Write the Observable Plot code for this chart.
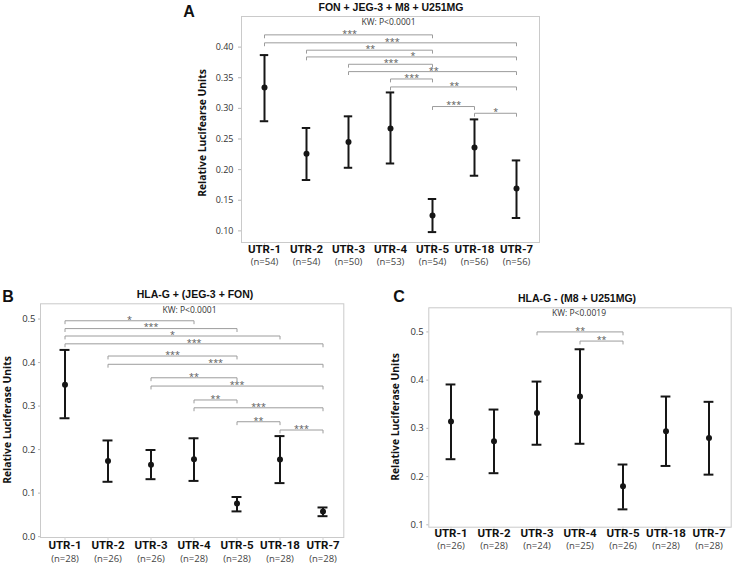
<!DOCTYPE html>
<html><head><meta charset="utf-8">
<script src="https://cdn.jsdelivr.net/npm/d3@7"></script>
<script src="https://cdn.jsdelivr.net/npm/@observablehq/plot@0.6"></script>
<style>
body{margin:0;background:#fff;}
#root{position:relative;width:733px;height:568px;overflow:hidden;background:#fff;}
.ov{position:absolute;transform:translate(-50%,-50%);white-space:nowrap;line-height:1;color:#111;}
.rot{transform:translate(-50%,-50%) rotate(-90deg);}
</style></head><body><div id="root"></div>
<script>
// ---------- data ----------
const categories = ["UTR-1","UTR-2","UTR-3","UTR-4","UTR-5","UTR-18","UTR-7"];

// Panel A: FON + JEG-3 + M8 + U251MG
const nA    = ["(n=54)","(n=54)","(n=50)","(n=53)","(n=54)","(n=56)","(n=56)"];
const meanA = [0.334, 0.226, 0.245, 0.267, 0.125, 0.236, 0.169];
const lowA  = [0.279, 0.183, 0.203, 0.210, 0.098, 0.190, 0.121];
const highA = [0.387, 0.268, 0.287, 0.326, 0.152, 0.282, 0.215];
const ticksA = [0.10, 0.15, 0.20, 0.25, 0.30, 0.35, 0.40];
const sigFromA  = ["UTR-1","UTR-1","UTR-2","UTR-2","UTR-3","UTR-3","UTR-4","UTR-4","UTR-5","UTR-18"];
const sigToA    = ["UTR-5","UTR-7","UTR-5","UTR-7","UTR-5","UTR-7","UTR-5","UTR-7","UTR-18","UTR-7"];
const sigStarA  = ["***","***","**","*","***","**","***","**","***","*"];
const sigLevelA = [0.420, 0.407, 0.395, 0.384, 0.372, 0.360, 0.348, 0.335, 0.303, 0.292];

// Panel B: HLA-G + (JEG-3 + FON)
const nB    = ["(n=28)","(n=26)","(n=26)","(n=28)","(n=28)","(n=28)","(n=28)"];
const meanB = [0.349, 0.174, 0.165, 0.178, 0.076, 0.177, 0.058];
const lowB  = [0.272, 0.126, 0.132, 0.128, 0.058, 0.123, 0.047];
const highB = [0.429, 0.221, 0.199, 0.226, 0.091, 0.231, 0.067];
const ticksB = [0.0, 0.1, 0.2, 0.3, 0.4, 0.5];
const sigFromB  = ["UTR-1","UTR-1","UTR-1","UTR-1","UTR-2","UTR-2","UTR-3","UTR-3","UTR-4","UTR-4","UTR-5","UTR-18"];
const sigToB    = ["UTR-4","UTR-5","UTR-18","UTR-7","UTR-5","UTR-7","UTR-5","UTR-7","UTR-5","UTR-7","UTR-18","UTR-7"];
const sigStarB  = ["*","***","*","***","***","***","**","***","**","***","**","***"];
const sigLevelB = [0.496, 0.478, 0.461, 0.443, 0.415, 0.396, 0.365, 0.346, 0.314, 0.296, 0.264, 0.245];

// Panel C: HLA-G - (M8 + U251MG)
const nC    = ["(n=26)","(n=28)","(n=24)","(n=25)","(n=26)","(n=28)","(n=28)"];
const meanC = [0.314, 0.273, 0.332, 0.366, 0.180, 0.294, 0.280];
const lowC  = [0.236, 0.207, 0.266, 0.268, 0.132, 0.222, 0.204];
const highC = [0.391, 0.339, 0.397, 0.464, 0.225, 0.366, 0.355];
const ticksC = [0.1, 0.2, 0.3, 0.4, 0.5];
const sigFromC  = ["UTR-3","UTR-4"];
const sigToC    = ["UTR-5","UTR-5"];
const sigStarC  = ["**","**"];
const sigLevelC = [0.500, 0.481];

// ---------- drawing ----------
const root = document.getElementById("root");
const INK = "#161616";
const NARROW = "'Liberation Sans Narrow', 'Roboto', 'Liberation Sans', sans-serif";
const SANS = "'Open Sans', 'DejaVu Sans', sans-serif";

function panel(cfg) {
  const {means, lows, highs, ns, ticks, fmt, domain, from, to, stars, levels,
         left, top, width, height, mt, mr, mb, ml, insetL = 0, insetR = 0,
         cap, tickFont, tickSize, tickPad, nameDy, nDy} = cfg;
  const rows = categories.map((c, i) => ({cat: c, mean: means[i], lo: lows[i], hi: highs[i], n: ns[i]}));
  const fw = width - ml - mr, fh = height - mt - mb;
  const bw = (fw - insetL - insetR) / categories.length;
  const capInset = (bw - cap) / 2;
  const drop = 3 * (domain[1] - domain[0]) / fh; // bracket end tick, ~3px
  const sig = from.map((a, i) => ({a, b: to[i], p: stars[i], y: levels[i], k: i}));
  const bracketPts = sig.flatMap(s => [
    {k: s.k, x: s.a, y: s.y - drop}, {k: s.k, x: s.a, y: s.y},
    {k: s.k, x: s.b, y: s.y}, {k: s.k, x: s.b, y: s.y - drop}
  ]);
  const idx = c => categories.indexOf(c);
  const starMarks = sig.map(s => Plot.text([s], {
    x: "a", y: "y", text: "p", dx: (idx(s.b) - idx(s.a)) * bw / 2, dy: -1,
    fontSize: 9, fontFamily: SANS, fill: "#555"
  }));
  const svg = Plot.plot({
    width, height, marginTop: mt, marginRight: mr, marginBottom: mb, marginLeft: ml,
    style: {fontFamily: SANS, background: "transparent", overflow: "visible"},
    x: {type: "band", domain: categories, padding: 0, insetLeft: insetL, insetRight: insetR, axis: null},
    y: {domain, axis: null},
    marks: [
      Plot.frame({stroke: "#cacaca"}),
      Plot.axisY({ticks, tickFormat: fmt, tickSize, tickPadding: tickPad, stroke: "#b8b8b8",
                  fill: "#333", fontSize: tickFont, fontFamily: SANS, label: null}),
      Plot.axisX({tickSize: 3, tickFormat: () => "", stroke: "#cfcfcf", label: null}),
      Plot.line(bracketPts, {x: "x", y: "y", z: "k", stroke: "#9c9c9c", strokeWidth: 1}),
      ...starMarks,
      Plot.ruleX(rows, {x: "cat", y1: "lo", y2: "hi", stroke: INK, strokeWidth: 2}),
      Plot.tickY(rows, {x: "cat", y: "hi", stroke: INK, strokeWidth: 2, insetLeft: capInset, insetRight: capInset}),
      Plot.tickY(rows, {x: "cat", y: "lo", stroke: INK, strokeWidth: 2, insetLeft: capInset, insetRight: capInset}),
      Plot.dot(rows, {x: "cat", y: "mean", r: 3, fill: INK, stroke: null}),
      Plot.text(rows, {x: "cat", text: "cat", frameAnchor: "bottom", dy: nameDy, fontWeight: "bold",
                       fontSize: 11.5, fontFamily: NARROW, fill: "#111"}),
      Plot.text(rows, {x: "cat", text: "n", frameAnchor: "bottom", dy: nDy,
                       fontSize: 9.5, fontFamily: SANS, fill: "#444"})
    ]
  });
  svg.style.position = "absolute";
  svg.style.left = left + "px";
  svg.style.top = top + "px";
  root.appendChild(svg);
}

panel({means: meanA, lows: lowA, highs: highA, ns: nA, ticks: ticksA, fmt: d3.format(".2f"),
       domain: [0.081, 0.450], from: sigFromA, to: sigToA, stars: sigStarA, levels: sigLevelA,
       left: 180, top: 0, width: 380, height: 275, mt: 16, mr: 21, mb: 33, ml: 61,
       cap: 9, tickFont: 9, tickSize: 3, tickPad: 5, nameDy: 10, nDy: 22});

panel({means: meanB, lows: lowB, highs: highB, ns: nB, ticks: ticksB, fmt: d3.format(".1f"),
       domain: [-0.002, 0.535], from: sigFromB, to: sigToB, stars: sigStarB, levels: sigLevelB,
       left: 0, top: 280, width: 370, height: 288, mt: 23.3, mr: 26.7, mb: 31, ml: 40, insetL: 3, insetR: -1,
       cap: 10, tickFont: 9.5, tickSize: 2, tickPad: 3, nameDy: 11.5, nDy: 24});

panel({means: meanC, lows: lowC, highs: highC, ns: nC, ticks: ticksC, fmt: d3.format(".1f"),
       domain: [0.095, 0.550], from: sigFromC, to: sigToC, stars: sigStarC, levels: sigLevelC,
       left: 370, top: 280, width: 363, height: 288, mt: 27.3, mr: 2.3, mb: 41.3, ml: 58.3,
       cap: 10, tickFont: 9.5, tickSize: 2, tickPad: 3, nameDy: 10, nDy: 21.5});

// ---------- titles and labels ----------
function overlay(text, x, y, style, cls = "ov") {
  const el = document.createElement("div");
  el.className = cls;
  el.textContent = text;
  el.style.left = x + "px";
  el.style.top = y + "px";
  Object.assign(el.style, style);
  root.appendChild(el);
}
const letterStyle = {fontFamily: "'Liberation Sans', Arial, sans-serif", fontWeight: "bold", fontSize: "16px"};
const titleStyle = {fontFamily: "'Liberation Sans', Arial, sans-serif", fontWeight: "bold", fontSize: "10.5px"};
const kwStyle = {fontFamily: SANS, fontSize: "8.5px", color: "#333"};
const yStyle = {fontFamily: SANS, fontWeight: "bold", fontSize: "10.3px"};

overlay("A", 189, 12, letterStyle);
overlay("FON + JEG-3 + M8 + U251MG", 391, 6.5, titleStyle);
overlay("KW: P<0.0001", 388.5, 22, kwStyle);
overlay("Relative Lucifearse Units", 202, 132.5, yStyle, "ov rot");

overlay("B", 8, 297, letterStyle);
overlay("HLA-G + (JEG-3 + FON)", 195, 294, titleStyle);
overlay("KW: P<0.0001", 189.5, 310, kwStyle);
overlay("Relative Luciferase Units", 7, 420, yStyle, "ov rot");

overlay("C", 399, 297, letterStyle);
overlay("HLA-G - (M8 + U251MG)", 577, 298, titleStyle);
overlay("KW: P<0.0019", 579, 313.3, kwStyle);
overlay("Relative Luciferase Units", 394.5, 417, yStyle, "ov rot");
</script></body></html>
